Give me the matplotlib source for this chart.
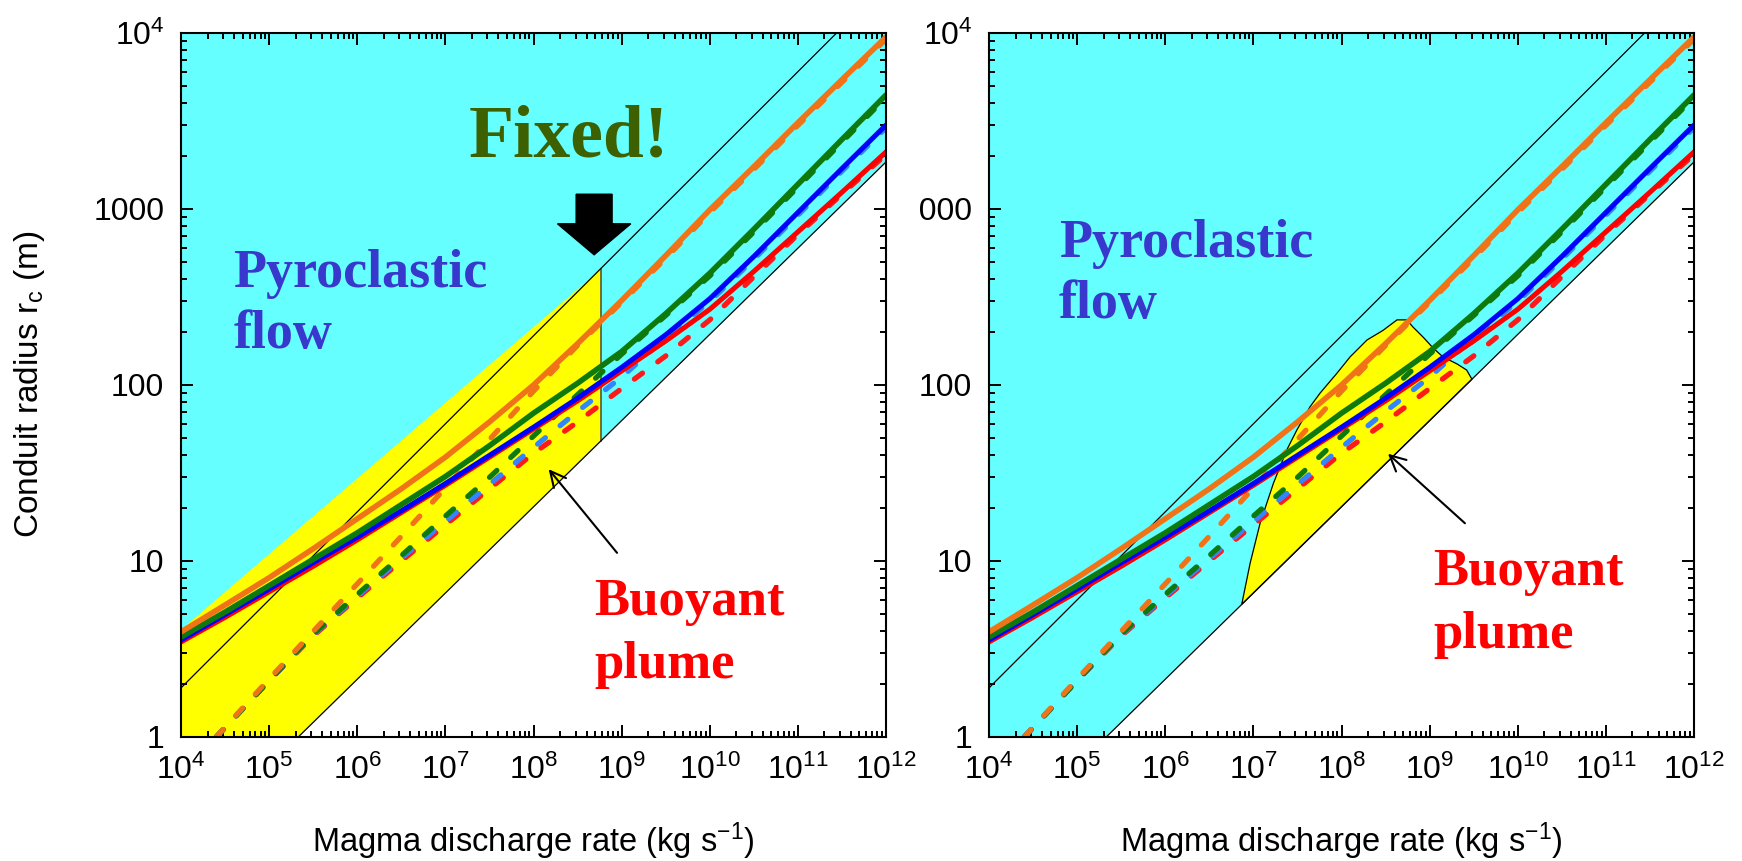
import numpy as np
import matplotlib
matplotlib.use('Agg')
import matplotlib.pyplot as plt
from matplotlib.patches import Polygon, FancyArrow, Rectangle
from matplotlib.ticker import LogLocator, FuncFormatter, NullFormatter

plt.rcParams['font.family'] = ['Liberation Sans', 'DejaVu Sans']
plt.rcParams['mathtext.fontset'] = 'custom'
plt.rcParams['mathtext.rm'] = 'Liberation Sans'
plt.rcParams['mathtext.it'] = 'Liberation Sans:italic'
plt.rcParams['mathtext.bf'] = 'Liberation Sans:bold'

# ---------------- data (log10 units) ----------------
logQ_solid = [4.0, 4.5, 5.0, 5.5, 6.0, 6.5, 7.0, 7.5, 8.0, 8.5, 9.0, 9.5, 10.0, 10.5, 11.0, 11.5, 12.0]
logr_orange = [0.597, 0.75, 0.905, 1.07, 1.24, 1.41, 1.59, 1.79, 2.00, 2.235, 2.48, 2.735, 2.995, 3.24, 3.49, 3.735, 3.977]
logr_green = [0.568, 0.71, 0.86, 1.01, 1.16, 1.32, 1.48, 1.655, 1.84, 2.01, 2.19, 2.405, 2.635, 2.885, 3.14, 3.395, 3.648]
logr_blue = [0.551, 0.695, 0.84, 0.99, 1.135, 1.285, 1.44, 1.60, 1.76, 1.925, 2.10, 2.285, 2.49, 2.73, 2.98, 3.23, 3.477]
logr_red = [0.54, 0.68, 0.825, 0.97, 1.12, 1.275, 1.43, 1.59, 1.75, 1.91, 2.08, 2.25, 2.43, 2.645, 2.87, 3.095, 3.324]

logQ_dash = [4.4, 5.0, 5.5, 6.0, 6.5, 7.0, 7.5, 8.0, 8.5, 9.0, 9.5, 10.0, 10.5, 11.0, 11.5, 12.0]
logr_orange_d = [0.0, 0.33, 0.60, 0.87, 1.14, 1.415, 1.69, 1.965, 2.225, 2.47, 2.72, 2.98, 3.225, 3.475, 3.72, 3.965]
logr_green_d = [0.0, 0.32, 0.585, 0.81, 1.03, 1.255, 1.475, 1.71, 1.945, 2.175, 2.395, 2.62, 2.87, 3.125, 3.38, 3.635]
logr_blue_d = [0.0, 0.32, 0.58, 0.80, 1.015, 1.225, 1.435, 1.645, 1.85, 2.045, 2.27, 2.475, 2.715, 2.965, 3.215, 3.462]
logr_red_d = [0.0, 0.32, 0.575, 0.79, 1.0, 1.205, 1.41, 1.612, 1.79, 1.98, 2.165, 2.37, 2.615, 2.855, 3.085, 3.31]

# thin black boundary lines (Q, r)
upper_Q = [1e4, 2.75e11]
upper_r = [1.9, 1e4]
lower_Q = [2.14e5, 1e12]
lower_r = [1.0, 1850.0]

# left panel yellow (fixed) region (Q, r)
fixedQ = 5.85e8
yellowL_Q = [1e4, 2.14e5, fixedQ, fixedQ, 1e4]
yellowL_r = [1.0, 1.0, 48.0, 455.0, 4.06]

# right panel yellow region outline (log10 Q, log10 r)
blob_logQ = [6.868, 6.963, 7.076, 7.227, 7.379, 7.493, 7.644, 7.757, 7.95, 8.098, 8.29, 8.47,
             8.63, 8.74, 8.81, 8.93, 9.04, 9.15, 9.31, 9.42, 9.48]
blob_logr = [0.754, 0.987, 1.214, 1.441, 1.631, 1.744, 1.877, 1.954, 2.068, 2.16, 2.256, 2.31,
             2.37, 2.37, 2.33, 2.27, 2.21, 2.16, 2.12, 2.085, 2.033]

xtick_exps = [4, 5, 6, 7, 8, 9, 10, 11, 12]
ytick_vals = [1, 10, 100, 1000, 10000]
ytick_labels = ['1', '10', '100', '1000', r'$10^{4}$']

CYAN = '#66FFFF'
YELLOW = '#FFFF00'
C_OR = '#F07318'
C_GR = '#0E7A0E'
C_BL = '#0000FF'
C_RD = '#FF0000'
C_BL_D = '#3385FF'
C_RD_D = '#FF1A1A'

W, H = 1742, 861
fig = plt.figure(figsize=(W / 100, H / 100), dpi=100)
axL = fig.add_axes([181 / W, (H - 737) / H, 705 / W, 704 / H])
axR = fig.add_axes([989 / W, (H - 737) / H, 705 / W, 704 / H])

p10 = lambda a: np.power(10.0, np.asarray(a, dtype=float))


def setup(ax):
    ax.set_xscale('log')
    ax.set_yscale('log')
    ax.set_xlim(1e4, 1e12)
    ax.set_ylim(1, 1e4)
    ax.set_facecolor('white')
    ax.xaxis.set_major_locator(LogLocator(base=10, numticks=20))
    ax.xaxis.set_minor_locator(LogLocator(base=10, subs=np.arange(2, 10), numticks=200))
    ax.yaxis.set_major_locator(LogLocator(base=10, numticks=20))
    ax.yaxis.set_minor_locator(LogLocator(base=10, subs=np.arange(2, 10), numticks=200))
    ax.xaxis.set_minor_formatter(NullFormatter())
    ax.yaxis.set_minor_formatter(NullFormatter())
    ax.xaxis.set_major_formatter(FuncFormatter(lambda v, p: r'$10^{%d}$' % int(round(np.log10(v)))))
    ymap = dict(zip(ytick_vals, ytick_labels))
    ax.yaxis.set_major_formatter(FuncFormatter(lambda v, p: ymap.get(int(round(v)), '')))
    ax.tick_params(which='both', direction='in', top=True, right=True, width=1.4, labelsize=23)
    ax.tick_params(which='major', length=8.5)
    ax.tick_params(which='minor', length=4.3)
    ax.tick_params(axis='x', which='major', pad=13)
    ax.tick_params(axis='y', which='major', pad=12)
    for s in ax.spines.values():
        s.set_linewidth(1.5)
        s.set_zorder(20)

    # cyan region above lower line
    cyan_pts = [(1e4, 1e4), (1e4, 1.0), (lower_Q[0], lower_r[0]), (lower_Q[1], lower_r[1]), (1e12, 1e4)]
    ax.add_patch(Polygon(cyan_pts, closed=True, facecolor=CYAN, edgecolor='none', zorder=0.5))


def draw_lines(ax):
    ax.plot(upper_Q, upper_r, color='k', lw=0.9, zorder=2)
    ax.plot(lower_Q, lower_r, color='k', lw=0.9, zorder=2)
    dkw = dict(lw=3.8, dashes=(1.9, 3.6), dash_capstyle='round', zorder=3)
    ax.plot(p10(logQ_dash), p10(logr_red_d), color=C_RD_D, **dkw)
    ax.plot(p10(logQ_dash), p10(logr_blue_d), color=C_BL_D, **dkw)
    ax.plot(p10(logQ_dash), p10(logr_green_d), color=C_GR, **dkw)
    ax.plot(p10(logQ_dash), p10(logr_orange_d), color=C_OR, **dkw)
    skw = dict(solid_capstyle='round', zorder=4)
    ax.plot(p10(logQ_solid), p10(logr_red), color=C_RD, lw=3.6, **skw)
    ax.plot(p10(logQ_solid), p10(logr_blue), color=C_BL, lw=3.6, **skw)
    ax.plot(p10(logQ_solid), p10(logr_green), color=C_GR, lw=4.0, **skw)
    ax.plot(p10(logQ_solid), p10(logr_orange), color=C_OR, lw=4.0, **skw)


serif = dict(family=['Liberation Serif', 'DejaVu Serif'], weight='bold')

# ---------------- left panel ----------------
setup(axL)
axL.add_patch(Polygon(list(zip(yellowL_Q, yellowL_r)), closed=True, facecolor=YELLOW,
                      edgecolor='none', zorder=1))
axL.plot([fixedQ, fixedQ], [yellowL_r[2], yellowL_r[3]], color='#4A4A2A', lw=1.1, zorder=1.5)
draw_lines(axL)

axL.text(0.4085, 0.824, 'Fixed!', transform=axL.transAxes, color='#3D6000', fontsize=53,
         ha='left', va='baseline', zorder=6, **serif)
axL.add_patch(FancyArrow(0.586, 0.771, 0, -0.086, width=0.051, head_width=0.104, head_length=0.044,
                         length_includes_head=True, transform=axL.transAxes, color='k', zorder=6))
axL.text(0.074, 0.639, 'Pyroclastic', transform=axL.transAxes, color='#3838CC', fontsize=39,
         ha='left', va='baseline', zorder=6, **serif)
axL.text(0.074, 0.553, 'flow', transform=axL.transAxes, color='#3838CC', fontsize=39,
         ha='left', va='baseline', zorder=6, **serif)
axL.text(0.586, 0.173, 'Buoyant', transform=axL.transAxes, color='#FF0000', fontsize=38,
         ha='left', va='baseline', zorder=6, **serif)
axL.text(0.586, 0.084, 'plume', transform=axL.transAxes, color='#FF0000', fontsize=38,
         ha='left', va='baseline', zorder=6, **serif)
axL.annotate('', xy=(0.519, 0.3835), xytext=(0.621, 0.2585), xycoords='axes fraction',
             arrowprops=dict(arrowstyle='->', lw=1.5, color='k', mutation_scale=28), zorder=6)

# ---------------- right panel ----------------
setup(axR)
axR.add_patch(Polygon(list(zip(p10(blob_logQ), p10(blob_logr))), closed=True, facecolor=YELLOW,
                      edgecolor='k', lw=0.9, zorder=1))
draw_lines(axR)
axR.text(0.0993, 0.682, 'Pyroclastic', transform=axR.transAxes, color='#3838CC', fontsize=39,
         ha='left', va='baseline', zorder=6, **serif)
axR.text(0.0993, 0.595, 'flow', transform=axR.transAxes, color='#3838CC', fontsize=39,
         ha='left', va='baseline', zorder=6, **serif)
axR.text(0.630, 0.216, 'Buoyant', transform=axR.transAxes, color='#FF0000', fontsize=38,
         ha='left', va='baseline', zorder=6, **serif)
axR.text(0.630, 0.126, 'plume', transform=axR.transAxes, color='#FF0000', fontsize=38,
         ha='left', va='baseline', zorder=6, **serif)
axR.annotate('', xy=(0.563, 0.405), xytext=(0.678, 0.301), xycoords='axes fraction',
             arrowprops=dict(arrowstyle='->', lw=1.5, color='k', mutation_scale=28), zorder=6)

# axis labels
fig.text(30 / W, 1 - 384 / H, r'Conduit radius r$_{\mathrm{c}}$ (m)', rotation=90,
         ha='center', va='center', fontsize=24)
fig.text(533.5 / W, 1 - 852 / H, r'Magma discharge rate (kg s$^{-1}$)', ha='center',
         va='baseline', fontsize=23.5)
fig.text(1341.5 / W, 1 - 852 / H, r'Magma discharge rate (kg s$^{-1}$)', ha='center',
         va='baseline', fontsize=23.5)

# cropped strip between the two panels (hides the leading "1" of the right panel's 1000)
fig.patches.append(Rectangle((888 / W, 1 - 234 / H), 30.5 / W, 52 / H, transform=fig.transFigure,
                             facecolor='white', edgecolor='none', zorder=10))

fig.savefig('out.png', dpi=100)
